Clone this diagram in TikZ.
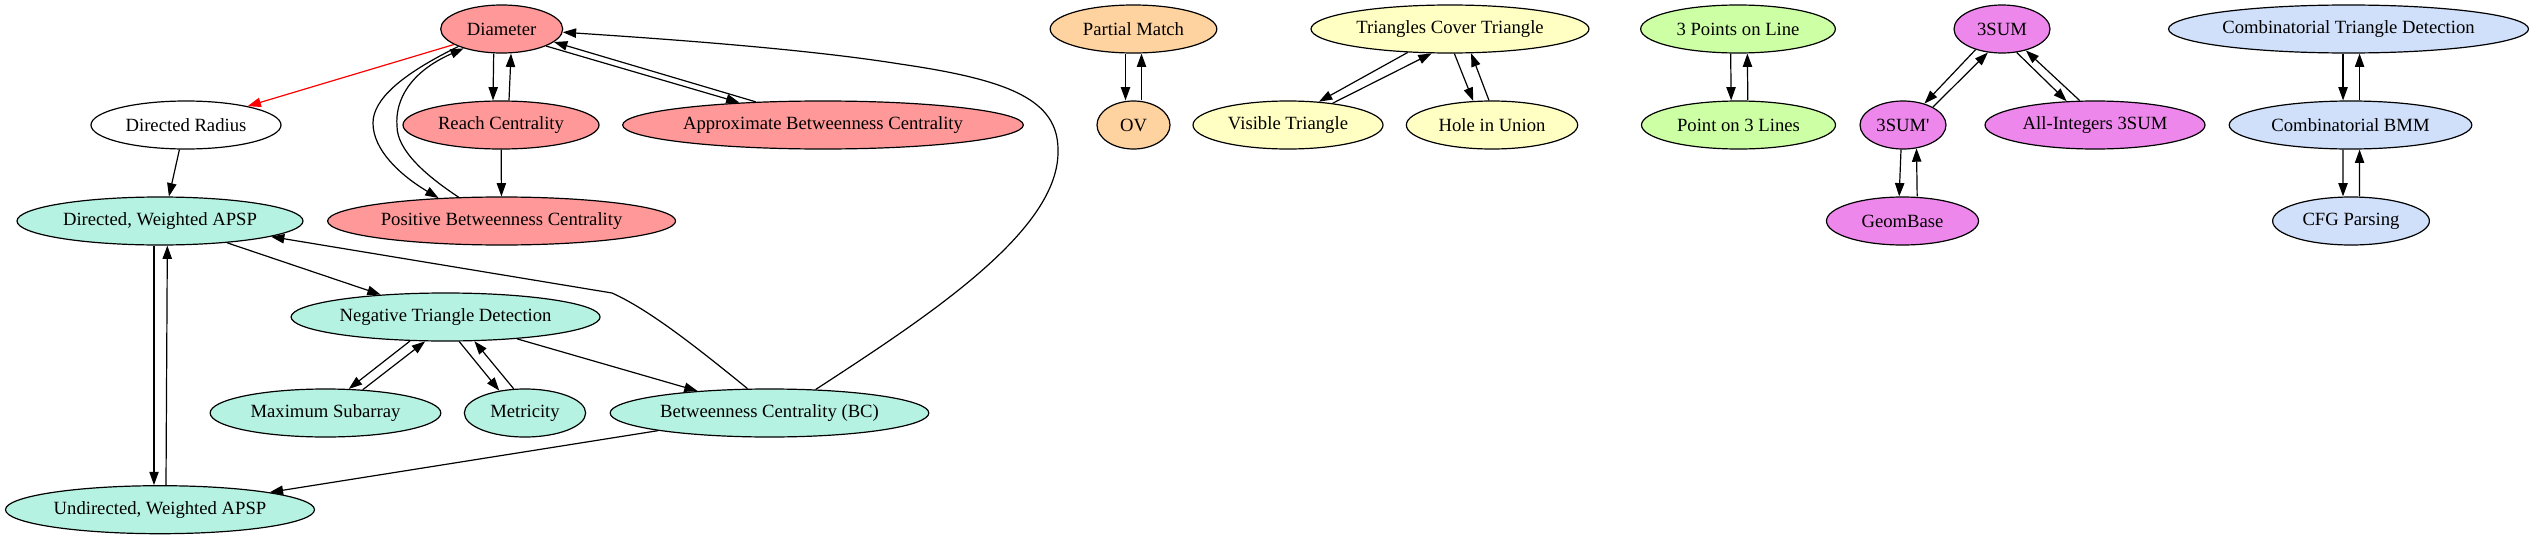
\documentclass[tikz,border=0pt]{standalone}
\usepackage{fontspec}
\setmainfont{Liberation Serif}
\usetikzlibrary{shapes.geometric,arrows.meta}
\definecolor{cRed}{RGB}{255,153,153}
\definecolor{cTeal}{RGB}{182,242,226}
\definecolor{cOrange}{RGB}{255,211,160}
\definecolor{cYellow}{RGB}{255,255,196}
\definecolor{cGreen}{RGB}{205,255,165}
\definecolor{cViolet}{RGB}{238,135,236}
\definecolor{cBlue}{RGB}{208,224,250}
\begin{document}
\begin{tikzpicture}[x=0.75pt,y=-0.75pt,
  nd/.style={ellipse, draw, line width=0.9pt, minimum height=36pt, inner sep=0pt,
             font=\fontsize{14pt}{16pt}\selectfont},
  e/.style={-{Triangle[length=10pt,width=7pt]}, line width=0.9pt}]
\useasboundingbox (0,0) rectangle (2538,539);
% nodes
\node[nd, fill=cRed, minimum width=91.5pt] (Diam) at (501.7,29) {Diameter};
\node[nd, fill=white, minimum width=142.5pt] (DR) at (186,125) {Directed Radius};
\node[nd, fill=cRed, minimum width=147pt] (Reach) at (501,125) {Reach Centrality};
\node[nd, fill=cRed, minimum width=300.5pt] (ABC) at (823,125) {Approximate Betweenness Centrality};
\node[nd, fill=cTeal, minimum width=214.5pt] (DAPSP) at (160,221) {Directed, Weighted APSP};
\node[nd, fill=cRed, minimum width=261pt] (PBC) at (501.6,221) {Positive Betweenness Centrality};
\node[nd, fill=cTeal, minimum width=231.75pt] (NTD) at (445.6,317) {Negative Triangle Detection};
\node[nd, fill=cTeal, minimum width=173pt] (MS) at (325.5,413) {Maximum Subarray};
\node[nd, fill=cTeal, minimum width=91pt] (Met) at (525,413) {Metricity};
\node[nd, fill=cTeal, minimum width=239pt] (BC) at (769.5,413) {Betweenness Centrality (BC)};
\node[nd, fill=cTeal, minimum width=231.75pt] (UAPSP) at (160,509.7) {Undirected, Weighted APSP};
\node[nd, fill=cOrange, minimum width=125pt] (PM) at (1133.5,29) {Partial Match};
\node[nd, fill=cOrange, minimum width=54.75pt] (OV) at (1133.5,125) {OV};
\node[nd, fill=cYellow, minimum width=208.5pt] (TCT) at (1450,29) {Triangles Cover Triangle};
\node[nd, fill=cYellow, minimum width=142.5pt] (VT) at (1288,125) {Visible Triangle};
\node[nd, fill=cYellow, minimum width=128.5pt] (HU) at (1492,125) {Hole in Union};
\node[nd, fill=cGreen, minimum width=146pt] (P3L) at (1738,29) {3 Points on Line};
\node[nd, fill=cGreen, minimum width=145.5pt] (PO3) at (1738.5,125) {Point on 3 Lines};
\node[nd, fill=cViolet, minimum width=72pt] (S3) at (2002,29) {3SUM};
\node[nd, fill=cViolet, minimum width=64.5pt] (S3p) at (1903,125) {3SUM\textquotesingle};
\node[nd, fill=cViolet, minimum width=165pt] (AI) at (2095,125) {All-Integers 3SUM};
\node[nd, fill=cViolet, minimum width=114pt] (GB) at (1902.5,221) {GeomBase};
\node[nd, fill=cBlue, minimum width=270pt] (CTD) at (2348.5,29) {Combinatorial Triangle Detection};
\node[nd, fill=cBlue, minimum width=182pt] (CBMM) at (2350.5,125) {Combinatorial BMM};
\node[nd, fill=cBlue, minimum width=117.6pt] (CFG) at (2351,221) {CFG Parsing};
% edges: left cluster
\draw[e, red] (Diam.198) -- (DR.17.8);
\draw[e] ([xshift=-6pt]Diam.south) -- ([xshift=-6pt]Reach.north);
\draw[e] ([xshift=6pt]Reach.north) -- ([xshift=7pt]Diam.south);
\draw[e] (Diam.-21.7) -- (ABC.165.2);
\draw[e] (ABC.161.1) -- (Diam.-14.5);
\draw[e] (Diam.202) .. controls (400,75) and (373,100) .. (373,123)
         .. controls (373,150) and (400,175) .. (PBC.160.2);
\draw[e] (PBC.151.7) .. controls (425,175) and (397,150) .. (397,126)
         .. controls (395,100) and (410,72) .. (Diam.207.3);
\draw[e] (Reach) -- (PBC);
\draw[e] (DR.-105.6) -- (DAPSP.70.9);
\draw[e] (DAPSP.-18.5) -- (NTD.161.5);
\draw[e] (BC.132.7) .. controls (700,350) and (650,310) .. (612,293) -- (DAPSP.-8.8);
\draw[e] (BC.27.8) .. controls (930,315) and (1060,230) .. (1058,150)
         .. controls (1058,100) and (1010,80) .. (900,64)
         .. controls (800,48) and (650,38) .. (Diam.-3.6);
\draw[e] (NTD.-146.5) -- (MS.46.1);
\draw[e] (MS.32.4) -- (NTD.-130.9);
\draw[e] (NTD.-61.5) -- (Met.139.6);
\draw[e] (Met.115.9) -- (NTD.-40.9);
\draw[e] (NTD.-17.2) -- (BC.163.2);
\draw[e] ([xshift=-4.5pt]DAPSP.south) -- ([xshift=-4.5pt]UAPSP.north);
\draw[e] ([xshift=4.5pt]UAPSP.north) -- ([xshift=5.5pt]DAPSP.south);
\draw[e] (BC.189.6) -- (UAPSP.9.4);
% other clusters
\draw[e] ([xshift=-6pt]PM.south) -- ([xshift=-6pt]OV.north);
\draw[e] ([xshift=6pt]OV.north) -- ([xshift=6pt]PM.south);
\draw[e] (TCT.-151.9) -- (VT.37.8);
\draw[e] (VT.26.9) -- (TCT.-127.6);
\draw[e] (TCT.-80.5) -- (HU.128.7);
\draw[e] (HU.97.6) -- (TCT.-49.8);
\draw[e] ([xshift=-5.5pt]P3L.south) -- ([xshift=-5.5pt]PO3.north);
\draw[e] ([xshift=7pt]PO3.north) -- ([xshift=7pt]P3L.south);
\draw[e] (S3.-142.6) -- (S3p.45.5);
\draw[e] (S3p.31.7) -- (S3.-121.6);
\draw[e] (S3.-58.3) -- (AI.140.3);
\draw[e] (AI.122.6) -- (S3.-42);
\draw[e] ([xshift=-1.5pt]S3p.south) -- ([xshift=-2.5pt]GB.north);
\draw[e] ([xshift=11pt]GB.north) -- (S3p.-60.8);
\draw[e] ([xshift=-4.1pt]CTD.south) -- ([xshift=-5.6pt]CBMM.north);
\draw[e] ([xshift=6.8pt]CBMM.north) -- ([xshift=8.3pt]CTD.south);
\draw[e] ([xshift=-5.6pt]CBMM.south) -- ([xshift=-6pt]CFG.north);
\draw[e] ([xshift=6.4pt]CFG.north) -- ([xshift=6.8pt]CBMM.south);
\end{tikzpicture}
\end{document}
